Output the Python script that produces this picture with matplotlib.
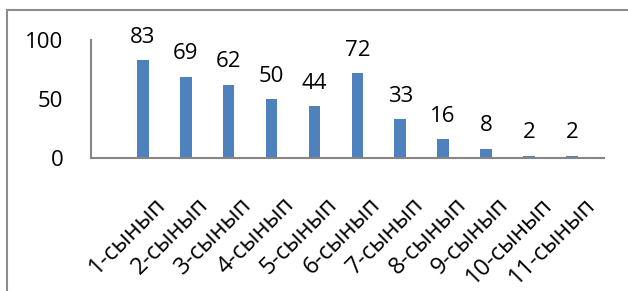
import matplotlib
matplotlib.use('Agg')
import matplotlib.pyplot as plt
import matplotlib.transforms as mtransforms
from matplotlib.lines import Line2D

plt.rcParams['font.family'] = ['Open Sans', 'DejaVu Sans']

# данные
classes = ['1-сынып', '2-сынып', '3-сынып', '4-сынып', '5-сынып', '6-сынып',
           '7-сынып', '8-сынып', '9-сынып', '10-сынып', '11-сынып']
values = [83, 69, 62, 50, 44, 72, 33, 16, 8, 2, 2]
y_ticks = [0, 50, 100]

bar_color = '#4F81BD'
axis_color = '#868686'

fig = plt.figure(figsize=(6.28, 2.91), dpi=100)
ax = fig.add_axes([91 / 628, 1 - 158 / 291, (604 - 91) / 628, (158 - 40) / 291])

x = list(range(len(classes)))
ax.bar(x, values, width=0.27, color=bar_color)

for xi, v in zip(x, values):
    ax.annotate(str(v), (xi, v), xytext=(0, 9), textcoords='offset points',
                ha='center', va='bottom', fontsize=16)

ax.set_xlim(-1.21, 10.75)
ax.set_ylim(0, 100)
ax.set_yticks(y_ticks)
ax.set_yticklabels([str(t) for t in y_ticks], fontsize=16)
ax.set_xticks(x)
ax.set_xticklabels(classes, fontsize=17, rotation=45, ha='right', va='top',
                   rotation_mode='anchor')
ax.tick_params(axis='y', length=0, pad=20)
ax.tick_params(axis='x', length=0, pad=25)

# сдвиг подписей вправо
shift = mtransforms.ScaledTranslation(11 / 100, 0, fig.dpi_scale_trans)
for lbl in ax.get_xticklabels():
    lbl.set_transform(lbl.get_transform() + shift)

for side in ['top', 'right']:
    ax.spines[side].set_visible(False)
for side in ['left', 'bottom']:
    ax.spines[side].set_color(axis_color)
    ax.spines[side].set_linewidth(1.5)

# рамка диаграммы
fig.add_artist(Line2D([7 / 628, 7 / 628], [0, 1 - 10 / 291], color='#8c8c8c', lw=1.5))
fig.add_artist(Line2D([7 / 628, 1], [1 - 10 / 291, 1 - 10 / 291], color='#8c8c8c', lw=1.5))

fig.savefig('out.png', dpi=100)
